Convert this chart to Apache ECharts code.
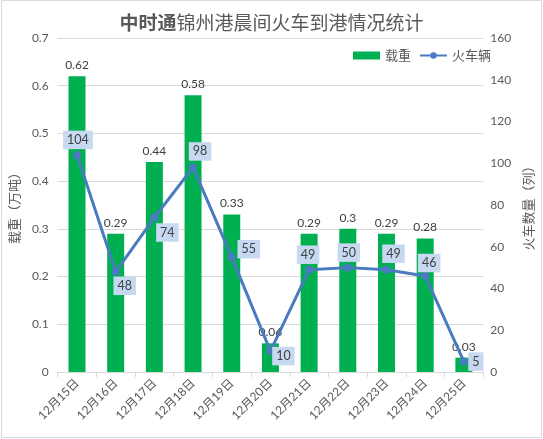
<!DOCTYPE html>
<html><head><meta charset="utf-8">
<script src="https://cdn.jsdelivr.net/npm/echarts@6/dist/echarts.min.js"></script>
<style>html,body{margin:0;padding:0;background:#fff}#c{width:543px;height:439px}</style>
</head><body><div id="c"></div>
<script>
var categories = ['12月15日','12月16日','12月17日','12月18日','12月19日','12月20日','12月21日','12月22日','12月23日','12月24日','12月25日'];
var loadValues = [0.62,0.29,0.44,0.58,0.33,0.06,0.29,0.3,0.29,0.28,0.03];
var trainValues = [104,48,74,98,55,10,49,50,49,46,5];
var leftTicks = [0,0.1,0.2,0.3,0.4,0.5,0.6,0.7];
var rightTicks = [0,20,40,60,80,100,120,140,160];
var labelOffsets = [[1,-15],[9,14],[13,15],[7,-16],[17,-8],[13,5],[-1,-15],[1,-15],[7,-16],[4,-13],[12,0]];

var FONT = "Lato, 'Noto Sans CJK SC', sans-serif";
var CJK = "'Noto Sans CJK SC', sans-serif";
var chart = echarts.init(document.getElementById('c'));
var lineData = trainValues.map(function(v,i){
  return {value:v, label:{offset:labelOffsets[i]}};
});
chart.setOption({
  animation:false,
  textStyle:{fontFamily:FONT},
  graphic:[{type:'rect',shape:{x:1.5,y:0.5,width:540,height:437},style:{fill:'none',stroke:'#d9d9d9',lineWidth:1},silent:true}],
  title:{
    text:'{b|中时通}{n|锦州港晨间火车到港情况统计}',
    left:'center', top:8,
    textStyle:{rich:{
      b:{fontFamily:CJK,fontSize:19,fontWeight:'bold',color:'#595959'},
      n:{fontFamily:CJK,fontSize:19,fontWeight:'normal',color:'#595959'}
    }}
  },
  legend:{
    left:348, top:44, itemWidth:27, itemHeight:8, itemGap:8,
    textStyle:{fontFamily:CJK,fontSize:13,color:'#595959'},
    data:[{name:'载重',icon:'rect'},{name:'火车辆'}]
  },
  grid:{left:45,right:50,top:38,bottom:67,containLabel:false},
  xAxis:{
    type:'category', data:categories, boundaryGap:true,
    axisLine:{lineStyle:{color:'#d9d9d9'}},
    axisTick:{show:true,length:5,lineStyle:{color:'#d9d9d9'}},
    axisLabel:{rotate:45,color:'#595959',fontSize:12,fontFamily:FONT,margin:9,interval:0}
  },
  yAxis:[{
    type:'value', min:0, max:0.7, interval:0.1,
    name:'载重（万吨）', nameLocation:'middle', nameRotate:90, nameGap:28,
    nameTextStyle:{fontFamily:CJK,fontSize:13,color:'#595959'},
    axisLine:{show:false}, axisTick:{show:false},
    axisLabel:{color:'#595959',fontSize:12,margin:9,formatter:function(v){return String(+v.toFixed(1));}},
    splitLine:{lineStyle:{color:'#d9d9d9'}}
  },{
    type:'value', min:0, max:160, interval:20,
    name:'火车数量（列）', nameLocation:'middle', nameRotate:90, nameGap:31,
    nameTextStyle:{fontFamily:CJK,fontSize:13,color:'#595959'},
    axisLine:{show:false}, axisTick:{show:false},
    axisLabel:{color:'#595959',fontSize:12,margin:7},
    splitLine:{show:false}
  }],
  series:[{
    name:'载重', type:'bar', data:loadValues, barWidth:17,
    itemStyle:{color:'#00b050'},
    label:{show:true,position:'top',distance:5,color:'#404040',fontSize:12,fontFamily:FONT}
  },{
    name:'火车辆', type:'line', yAxisIndex:1, data:lineData,
    symbol:'circle', symbolSize:8,
    lineStyle:{color:'#4a7bc0',width:3},
    itemStyle:{color:'#4a7bc0'},
    label:{show:true,position:'inside',color:'#404040',fontSize:12.5,fontFamily:FONT,
      backgroundColor:'#c6d9f0',padding:[3,4,3,4]},
    z:3
  }]
});
</script></body></html>
